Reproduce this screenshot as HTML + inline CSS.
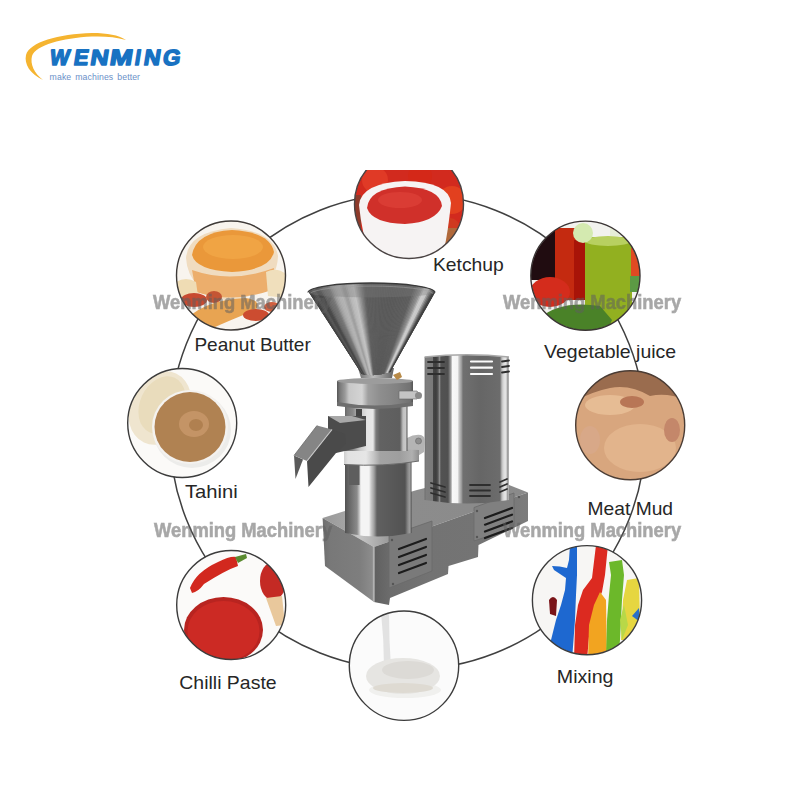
<!DOCTYPE html>
<html><head><meta charset="utf-8">
<style>
html,body{margin:0;padding:0;background:#fff;}
body{width:800px;height:800px;overflow:hidden;position:relative;font-family:"Liberation Sans",sans-serif;}
svg{position:absolute;left:0;top:0;}
.lbl{font-family:"Liberation Sans",sans-serif;font-size:19px;fill:#262626;}
.wm{font-family:"Liberation Sans",sans-serif;font-weight:bold;font-size:21px;fill:#606060;stroke:#606060;stroke-width:0.6px;}
</style></head><body>
<svg width="800" height="800" viewBox="0 0 800 800">
<defs>
  <clipPath id="cK"><path d="M366.4,170 L451.6,170 A54.5,54.5 0 1 1 366.4,170 Z"/></clipPath>
  <clipPath id="cKtop"><rect x="300" y="170" width="200" height="120"/></clipPath>
  <clipPath id="cP"><circle cx="231" cy="275.5" r="54.5"/></clipPath>
  <clipPath id="cV"><circle cx="585.4" cy="275.7" r="54.5"/></clipPath>
  <clipPath id="cT"><circle cx="182.2" cy="423" r="54.5"/></clipPath>
  <clipPath id="cM"><circle cx="630.2" cy="425.2" r="54.5"/></clipPath>
  <clipPath id="cX"><circle cx="587" cy="600.2" r="54.5"/></clipPath>
  <clipPath id="cC"><circle cx="231.2" cy="605" r="54.5"/></clipPath>
  <clipPath id="cL"><circle cx="404" cy="665.7" r="54.5"/></clipPath>
</defs>

<!-- LOGO -->
<path d="M43,80 C30,74 24,64 26,55 C30,42 58,34 92,33 C108,33 118,35 126,40 C116,37 104,36 92,36.5 C62,38 36,45 32,56 C30,64 34,73 43,80 Z" fill="#f5b430"/>
<g font-family="Liberation Sans" font-weight="bold" font-size="22" fill="#1872c2" stroke="#1872c2" stroke-width="1.5" stroke-linejoin="round">
<text x="0" y="0" transform="translate(49.10 64.5) skewX(-9) scale(0.941 1)">W</text>
<text x="0" y="0" transform="translate(73.10 64.5) skewX(-9) scale(0.988 1)">E</text>
<text x="0" y="0" transform="translate(89.50 64.5) skewX(-9) scale(1.139 1)">N</text>
<text x="0" y="0" transform="translate(109.10 64.5) skewX(-9) scale(1.233 1)">M</text>
<text x="0" y="0" transform="translate(134.0 64.5) skewX(-9) scale(0.92 1)">I</text>
<text x="0" y="0" transform="translate(143.10 64.5) skewX(-9) scale(1.040 1)">N</text>
<text x="0" y="0" transform="translate(162.10 64.5) skewX(-9) scale(1.023 1)">G</text>
</g>
<text x="49.6" y="80" font-family="Liberation Sans" font-size="8.7" fill="#6a90c8" textLength="90.4" lengthAdjust="spacing" word-spacing="1.5">make machines better</text>

<!-- BIG RING -->
<circle cx="407.7" cy="431.6" r="238.1" fill="none" stroke="#404040" stroke-width="1.5"/>

<!-- CIRCLES (photo approximations) -->
<g id="ketchup">
  <g clip-path="url(#cK)">
    <rect x="350" y="165" width="120" height="100" fill="#d22a1e"/>
    <circle cx="375" cy="180" r="13" fill="#e03a26"/>
    <circle cx="420" cy="176" r="12" fill="#d42818"/>
    <circle cx="452" cy="200" r="14" fill="#e2401f"/>
    <circle cx="450" cy="228" r="10" fill="#d03a20"/>
    <rect x="440" y="228" width="25" height="40" fill="#b0683a"/>
    <rect x="350" y="195" width="11" height="65" fill="#8e3a2a"/>
    <path d="M359,205 Q361,183 405,181 Q449,182 451,203 Q448,232 444,250 Q405,268 370,254 Q362,235 359,205 Z" fill="#f6f3f3"/>
    <path d="M367,208 Q369,188 405,186.5 Q440,188 442,206 Q436,222 405,224 Q372,223 367,208 Z" fill="#d0302a"/>
    <ellipse cx="400" cy="200" rx="22" ry="8" fill="#da3c34"/>
  </g>
  <circle cx="409" cy="204" r="54.5" fill="none" stroke="#4a4444" stroke-width="1.4" clip-path="url(#cKtop)"/>
</g>

<g id="peanut">
  <g clip-path="url(#cP)">
    <rect x="170" y="215" width="125" height="125" fill="#f8f4ee"/>
    <path d="M186,258 Q188,232 231,228 Q274,231 278,256 Q277,290 232,302 Q188,292 186,258 Z" fill="#f0dcc0"/>
    <path d="M192,255 Q196,232 232,230 Q270,232 274,252 Q270,270 232,272 Q196,270 192,255 Z" fill="#ea983a"/>
    <ellipse cx="233" cy="247" rx="30" ry="12" fill="#f0a444"/>
    <path d="M192,270 Q232,284 274,268 L272,290 Q232,304 196,292 Z" fill="#ecae6c"/>
    <path d="M176,282 Q186,276 196,282 L198,296 L178,298 Z" fill="#efdcb4"/>
    <path d="M266,272 Q278,266 288,276 L286,298 L268,296 Z" fill="#f0dfbc"/>
    <path d="M180,326 Q200,300 245,298 Q262,300 256,310 Q225,322 200,334 Z" fill="#e8a452"/>
    <ellipse cx="194" cy="300" rx="13" ry="7" fill="#c84a30"/>
    <ellipse cx="214" cy="297" rx="8" ry="6" fill="#c45634"/>
    <ellipse cx="256" cy="315" rx="13" ry="6" fill="#cc4c30"/>
    <ellipse cx="272" cy="307" rx="8" ry="5" fill="#d06040"/>
  </g>
  <circle cx="231" cy="275.5" r="54.5" fill="none" stroke="#3e3a38" stroke-width="1.4"/>
</g>

<g id="veg">
  <g clip-path="url(#cV)">
    <rect x="525" y="215" width="125" height="125" fill="#f2f2ee"/>
    <rect x="528" y="225" width="30" height="55" fill="#200c10"/>
    <rect x="555" y="228" width="31" height="72" fill="#c42a10"/>
    <rect x="574" y="240" width="12" height="60" fill="#a81408"/>
    <rect x="585" y="237" width="47" height="90" fill="#92b020"/>
    <ellipse cx="608" cy="241" rx="23" ry="5" fill="#b8d060"/>
    <circle cx="583" cy="233" r="10" fill="#d4eab0"/>
    <rect x="631" y="248" width="12" height="28" fill="#e04a22"/>
    <rect x="630" y="276" width="12" height="16" fill="#5c9a44"/>
    <ellipse cx="550" cy="292" rx="20" ry="15" fill="#d42c1c"/>
    <path d="M540,318 Q560,300 600,306 L612,320 L605,335 L545,335 Z" fill="#4a8228"/>
    <rect x="610" y="222" width="18" height="14" fill="#e6eed8"/>
  </g>
  <circle cx="585.4" cy="275.7" r="54.6" fill="none" stroke="#3a3434" stroke-width="1.4"/>
</g>

<g id="tahini">
  <g clip-path="url(#cT)">
    <rect x="125" y="365" width="115" height="115" fill="#fbfaf8"/>
    <ellipse cx="160" cy="408" rx="30" ry="38" fill="#efe5cf" transform="rotate(25 160 408)"/>
    <ellipse cx="162" cy="405" rx="22" ry="30" fill="#e9dcbc" transform="rotate(25 162 405)"/>
    <ellipse cx="192" cy="430" rx="39" ry="38" fill="#ececea"/>
    <ellipse cx="190" cy="427" rx="38" ry="37" fill="#f4f2ef"/>
    <ellipse cx="190" cy="427" rx="35.5" ry="35" fill="#b08252"/>
    <ellipse cx="194" cy="424" rx="15" ry="13" fill="#c49466"/>
    <ellipse cx="196" cy="425" rx="7" ry="6" fill="#b08050"/>
  </g>
  <circle cx="182.2" cy="423" r="54.5" fill="none" stroke="#3c3c3c" stroke-width="1.4"/>
</g>

<g id="meat">
  <g clip-path="url(#cM)">
    <rect x="570" y="365" width="120" height="120" fill="#d8a67e"/>
    <path d="M570,365 L690,365 L690,402 Q670,392 650,396 Q630,384 610,388 Q590,392 570,404 Z" fill="#9a6c4e"/>
    <ellipse cx="640" cy="448" rx="36" ry="24" fill="#e2b48c"/>
    <ellipse cx="610" cy="405" rx="25" ry="10" fill="#e6bc94"/>
    <ellipse cx="632" cy="402" rx="12" ry="6" fill="#b87656"/>
    <ellipse cx="672" cy="430" rx="8" ry="12" fill="#c4876a"/>
    <ellipse cx="590" cy="440" rx="10" ry="14" fill="#d8a888"/>
  </g>
  <circle cx="630.2" cy="425.2" r="54.5" fill="none" stroke="#4a3c34" stroke-width="1.4"/>
</g>

<g id="mixing">
  <g clip-path="url(#cX)">
    <rect x="525" y="540" width="125" height="120" fill="#f7f6f4"/>
    <path d="M570,545 L577,545 L577,575 L576,595 L575,620 L572,660 L550,660 L551,640 L556,620 L561,605 L565,590 L566,578 Q560,574 554,570 L552,566 Q560,566 567,568 L569,560 Z" fill="#1e68d0"/>
    <path d="M549,600 Q553,594 557,600 L556,616 L550,614 Z" fill="#7a1418"/>
    <path d="M596,545 L608,545 L605,575 L602,592 L594,610 L590,625 L587,660 L574,660 L575,625 L578,605 L583,590 L592,578 Z" fill="#dc2a20"/>
    <path d="M588,660 L589,625 L594,605 L600,592 L606,600 L607,660 Z" fill="#f2a420"/>
    <path d="M606,660 L607,620 L609,595 L611,575 L609,562 L622,560 L624,575 L622,600 L620,640 L618,660 Z" fill="#6cb82a"/>
    <path d="M621,640 L623,600 L627,580 L639,578 L640,625 L632,640 Z" fill="#e6d640"/>
    <path d="M620,620 L624,605 L628,625 L622,640 Z" fill="#b8d848"/>
    <path d="M632,616 L639,608 L640,622 Z" fill="#2a70c8"/>
  </g>
  <circle cx="587" cy="600.2" r="54.6" fill="none" stroke="#3c3c3c" stroke-width="1.4"/>
</g>

<g id="chilli">
  <g clip-path="url(#cC)">
    <rect x="170" y="545" width="125" height="120" fill="#fbfaf9"/>
    <path d="M190,588 Q196,572 218,562 Q230,556 236,557 L238,566 Q226,570 204,584 Q198,592 192,593 Z" fill="#d2281e"/>
    <path d="M235,557 L246,554 L247,558 L238,563 Z" fill="#5a8a30"/>
    <ellipse cx="223.5" cy="630" rx="39.5" ry="33" fill="#b82420"/>
    <ellipse cx="223.5" cy="631" rx="36" ry="30" fill="#cc2a24"/>
    <ellipse cx="273" cy="581" rx="13" ry="19" fill="#c42a24"/>
    <path d="M266,598 L282,596 L285,625 L276,626 Z" fill="#e9c89c"/>
  </g>
  <circle cx="231.2" cy="605" r="54.5" fill="none" stroke="#3c3c3c" stroke-width="1.4"/>
</g>

<g id="milk">
  <g clip-path="url(#cL)">
    <rect x="345" y="605" width="120" height="120" fill="#fbfbfb"/>
    <path d="M381,612 Q384,640 384,668 L391,668 Q389,640 389,612 Z" fill="#e2e2e2"/>
    <ellipse cx="405" cy="690" rx="36" ry="8" fill="#f0f0ee"/>
    <ellipse cx="403" cy="676" rx="37" ry="18" fill="#e6e5e2"/>
    <ellipse cx="408" cy="670" rx="26" ry="9" fill="#dcdad6"/>
    <ellipse cx="403" cy="688" rx="30" ry="5" fill="#dedad2"/>
  </g>
  <circle cx="404" cy="665.7" r="54.7" fill="none" stroke="#3c3c3c" stroke-width="1.4"/>
</g>

<!-- LABELS -->
<text class="lbl" x="433.00" y="271" textLength="70.81" lengthAdjust="spacingAndGlyphs">Ketchup</text>
<text class="lbl" x="194.40" y="350.5" textLength="116.39" lengthAdjust="spacingAndGlyphs">Peanut Butter</text>
<text class="lbl" x="544.05" y="357.5" textLength="132.14" lengthAdjust="spacingAndGlyphs">Vegetable juice</text>
<text class="lbl" x="184.90" y="498" textLength="52.82" lengthAdjust="spacingAndGlyphs">Tahini</text>
<text class="lbl" x="587.55" y="515" textLength="85.51" lengthAdjust="spacingAndGlyphs">Meat Mud</text>
<text class="lbl" x="179.30" y="689" textLength="97.32" lengthAdjust="spacingAndGlyphs">Chilli Paste</text>
<text class="lbl" x="556.80" y="682.5" textLength="56.69" lengthAdjust="spacingAndGlyphs">Mixing</text>

<!-- MACHINE -->
<g id="machine">
<defs>
  <linearGradient id="gHop" gradientUnits="userSpaceOnUse" x1="308" x2="435" y1="0" y2="0">
    <stop offset="0" stop-color="#4a4a4a"/>
    <stop offset="0.04" stop-color="#6a6a6a"/>
    <stop offset="0.12" stop-color="#8a8a8a"/>
    <stop offset="0.22" stop-color="#b8b8b8"/>
    <stop offset="0.3" stop-color="#9a9a9a"/>
    <stop offset="0.38" stop-color="#c8c8c8"/>
    <stop offset="0.45" stop-color="#8c8c8c"/>
    <stop offset="0.6" stop-color="#7a7a7a"/>
    <stop offset="0.78" stop-color="#858585"/>
    <stop offset="0.9" stop-color="#a8a8a8"/>
    <stop offset="0.96" stop-color="#bdbdbd"/>
    <stop offset="1" stop-color="#6a6a6a"/>
  </linearGradient>
  <linearGradient id="gNeck" gradientUnits="userSpaceOnUse" x1="360" x2="393" y1="0" y2="0">
    <stop offset="0" stop-color="#777"/>
    <stop offset="0.4" stop-color="#bbb"/>
    <stop offset="1" stop-color="#666"/>
  </linearGradient>
  <linearGradient id="gHead" gradientUnits="userSpaceOnUse" x1="337" x2="413" y1="0" y2="0">
    <stop offset="0.0000" stop-color="#555555"/>
    <stop offset="0.0395" stop-color="#7a7a7a"/>
    <stop offset="0.1053" stop-color="#9a9a9a"/>
    <stop offset="0.1579" stop-color="#c8c8c8"/>
    <stop offset="0.3289" stop-color="#d4d4d4"/>
    <stop offset="0.4079" stop-color="#a0a0a0"/>
    <stop offset="0.5658" stop-color="#8e8e8e"/>
    <stop offset="0.7895" stop-color="#828282"/>
    <stop offset="0.9605" stop-color="#727272"/>
    <stop offset="1.0000" stop-color="#555555"/>
  </linearGradient>
  <linearGradient id="gCol" gradientUnits="userSpaceOnUse" x1="345" x2="407.5" y1="0" y2="0">
    <stop offset="0.0000" stop-color="#666666"/>
    <stop offset="0.0320" stop-color="#777777"/>
    <stop offset="0.1280" stop-color="#8a8a8a"/>
    <stop offset="0.2400" stop-color="#c8c8c8"/>
    <stop offset="0.3520" stop-color="#e4e4e4"/>
    <stop offset="0.4480" stop-color="#e8e8e8"/>
    <stop offset="0.4960" stop-color="#7a7a7a"/>
    <stop offset="0.5600" stop-color="#626262"/>
    <stop offset="0.8800" stop-color="#5e5e5e"/>
    <stop offset="0.9280" stop-color="#c0c0c0"/>
    <stop offset="0.9680" stop-color="#c8c8c8"/>
    <stop offset="1.0000" stop-color="#555555"/>
  </linearGradient>
  <linearGradient id="gLow" gradientUnits="userSpaceOnUse" x1="345" x2="411.5" y1="0" y2="0">
    <stop offset="0.0000" stop-color="#505050"/>
    <stop offset="0.0150" stop-color="#585858"/>
    <stop offset="0.0602" stop-color="#666666"/>
    <stop offset="0.1805" stop-color="#8a8a8a"/>
    <stop offset="0.2180" stop-color="#c8c8c8"/>
    <stop offset="0.2406" stop-color="#f4f4f4"/>
    <stop offset="0.3609" stop-color="#f4f4f4"/>
    <stop offset="0.3910" stop-color="#cccccc"/>
    <stop offset="0.4361" stop-color="#a0a0a0"/>
    <stop offset="0.4812" stop-color="#606060"/>
    <stop offset="0.9023" stop-color="#525252"/>
    <stop offset="0.9474" stop-color="#8a8a8a"/>
    <stop offset="0.9774" stop-color="#a0a0a0"/>
    <stop offset="1.0000" stop-color="#4a4a4a"/>
  </linearGradient>
  <linearGradient id="gFl" gradientUnits="userSpaceOnUse" x1="344" x2="420" y1="0" y2="0">
    <stop offset="0.0000" stop-color="#cfcfcf"/>
    <stop offset="0.0526" stop-color="#e2e2e2"/>
    <stop offset="0.2895" stop-color="#e6e6e6"/>
    <stop offset="0.3947" stop-color="#c4c4c4"/>
    <stop offset="0.4737" stop-color="#a4a4a4"/>
    <stop offset="0.7368" stop-color="#9e9e9e"/>
    <stop offset="0.8947" stop-color="#b0b0b0"/>
    <stop offset="1.0000" stop-color="#8a8a8a"/>
  </linearGradient>
  <linearGradient id="gTall" gradientUnits="userSpaceOnUse" x1="424.6" x2="509" y1="0" y2="0">
    <stop offset="0.0000" stop-color="#6a6a6a"/>
    <stop offset="0.0166" stop-color="#7e7e7e"/>
    <stop offset="0.0936" stop-color="#7a7a7a"/>
    <stop offset="0.1055" stop-color="#444444"/>
    <stop offset="0.1351" stop-color="#3e3e3e"/>
    <stop offset="0.1588" stop-color="#555555"/>
    <stop offset="0.1765" stop-color="#8a8a8a"/>
    <stop offset="0.1943" stop-color="#525252"/>
    <stop offset="0.2773" stop-color="#505050"/>
    <stop offset="0.3128" stop-color="#a0a0a0"/>
    <stop offset="0.3306" stop-color="#f8f8f8"/>
    <stop offset="0.3898" stop-color="#f4f4f4"/>
    <stop offset="0.4076" stop-color="#c8c8c8"/>
    <stop offset="0.4372" stop-color="#9a9a9a"/>
    <stop offset="0.4550" stop-color="#707070"/>
    <stop offset="0.6564" stop-color="#666666"/>
    <stop offset="0.8934" stop-color="#6c6c6c"/>
    <stop offset="0.9171" stop-color="#c0c0c0"/>
    <stop offset="0.9408" stop-color="#e0e0e0"/>
    <stop offset="0.9645" stop-color="#e4e4e4"/>
    <stop offset="0.9822" stop-color="#a0a0a0"/>
    <stop offset="0.9917" stop-color="#b8b8b8"/>
    <stop offset="1.0000" stop-color="#909090"/>
  </linearGradient>
  <linearGradient id="gBaseL" gradientUnits="userSpaceOnUse" x1="322" x2="375" y1="0" y2="0">
    <stop offset="0.0000" stop-color="#6e6e6e"/>
    <stop offset="0.1509" stop-color="#787878"/>
    <stop offset="0.7170" stop-color="#7e7e7e"/>
    <stop offset="0.9434" stop-color="#8c8c8c"/>
    <stop offset="1.0000" stop-color="#b0b0b0"/>
  </linearGradient>
  <linearGradient id="gBaseF" gradientUnits="userSpaceOnUse" x1="374" x2="528" y1="0" y2="0">
    <stop offset="0.0000" stop-color="#606060"/>
    <stop offset="0.1039" stop-color="#6c6c6c"/>
    <stop offset="0.3636" stop-color="#737373"/>
    <stop offset="0.6883" stop-color="#747474"/>
    <stop offset="1.0000" stop-color="#7c7c7c"/>
  </linearGradient>
  <linearGradient id="gBaseT" gradientUnits="userSpaceOnUse" x1="322" x2="528" y1="0" y2="0">
    <stop offset="0.0000" stop-color="#989898"/>
    <stop offset="0.1117" stop-color="#a4a4a4"/>
    <stop offset="0.1748" stop-color="#c8c8c8"/>
    <stop offset="0.2427" stop-color="#b4b4b4"/>
    <stop offset="0.3301" stop-color="#989898"/>
    <stop offset="0.4369" stop-color="#8c8c8c"/>
    <stop offset="1.0000" stop-color="#8a8a8a"/>
  </linearGradient>
</defs>
<!-- base top face -->
<path d="M322.6,518 L348,510 L417,490 L425,488 L509,485 L528,492.5 L374,547 Z" fill="url(#gBaseT)"/>
<!-- base left face -->
<path d="M322.6,518 L374,547 L374,602 L325,566 Z" fill="url(#gBaseL)"/>
<!-- base front long face -->
<path d="M374,547 L528,492.5 L528,521 L478.5,545 L478,557 L448.5,566 L448,574 L390,598 L389,605 L374,602 Z" fill="url(#gBaseF)"/>
<path d="M374,547 L374,602" stroke="#c0c0c0" stroke-width="1.2"/>
<!-- vent panels -->
<path d="M389,536 L432,521 L432,571 L389,588 Z" fill="#7a7a7a" stroke="#6a6a6a" stroke-width="0.8"/>
<path d="M474,507.5 L514,493 L514,527 L474,541 Z" fill="#808080" stroke="#6a6a6a" stroke-width="0.8"/>
<g stroke="#1c1c1c" stroke-width="2.2" stroke-linecap="round">
  <path d="M399,549 L426,539 M399,557 L426,547 M399,565 L426,555 M399,573 L426,563"/>
  <path d="M485,518 L512,508 M485,524.7 L512,514.7 M485,531.5 L512,521.5 M485,538 L512,528"/>
</g>
<g fill="#555"><circle cx="392" cy="540" r="1.2"/><circle cx="393" cy="584" r="1.2"/><circle cx="477" cy="511" r="1.2"/><circle cx="477" cy="537" r="1.2"/><circle cx="519" cy="497" r="1.2"/></g>
<!-- tall cylinder -->
<path d="M424.6,357 Q467,353 509,357 L509,500 Q467.5,507 424.6,500 Z" fill="url(#gTall)"/>
<path d="M424.6,357 Q467,352.5 509,357" fill="none" stroke="#a8a8a8" stroke-width="1.5"/>
<g stroke="#fafafa" stroke-width="2.2" stroke-linecap="round">
  <path d="M471,361.5 L492,361.5 M471,367.7 L492,367.7 M471,374 L492,374"/>
</g>
<g stroke="#2e2e2e" stroke-width="1.8" stroke-linecap="round">
  <path d="M428,362 L444,362 M428,368 L444,368 M428,374 L444,374 M502,361.5 L509,360.5 M502,367 L509,366 M502,372.5 L509,371.5"/>
  <path d="M431,483 L445,487 M431,488 L445,492 M431,493 L445,497 M470,485 L490,485 M470,490.5 L490,490.5 M470,496 L490,496 M500,482 L507,479 M500,487 L507,484 M500,492 L507,489"/>
</g>
<!-- lower cylinder -->
<path d="M345,462 L411.5,462 L411.5,533 Q378,540 345,533 Z" fill="url(#gLow)"/>
<rect x="349" y="465" width="10.5" height="20" fill="#5e5e5e"/>
<!-- flange -->
<path d="M403,453 L407,438 Q414,434 421,435 Q426,437 425,443 L424,452 L416,457 Z" fill="#b4b4b4"/>
<circle cx="418.5" cy="441" r="3" fill="#8e8e8e" stroke="#666" stroke-width="0.6"/>
<path d="M344,451 Q384,448 419,450 L419,461 Q384,467 344,464.5 Z" fill="url(#gFl)"/>
<path d="M344,464.5 Q384,467 419,461" fill="none" stroke="#6a6a6a" stroke-width="1"/>
<!-- upper column -->
<path d="M345,404 L407.5,404 L407.5,451 L345,451 Z" fill="url(#gCol)"/>
<rect x="356" y="409" width="6" height="11" fill="#444"/>
<!-- chute -->
<path d="M328,416 L366,416 L366,446 L336,453 L328,440 Z" fill="#4c4c4c"/>
<path d="M328,416 L352,416 L366,420 L340,423 Z" fill="#a8a8a8"/>
<path d="M307,461 L332,429.5 L345,434 L346,444 L336,453 L308.5,487 Z" fill="#4a4a4a"/>
<path d="M294,455.5 L303,459.5 L295.5,479 Z" fill="#5a5a5a"/>
<path d="M294,455.5 L317,425.5 L332,429.5 L307,461 Z" fill="#858585"/>
<path d="M307,461 L332,429.5" stroke="#c8c8c8" stroke-width="1.2"/>
<path d="M294,455.5 L317,425.5" stroke="#6a6a6a" stroke-width="0.8"/>
<!-- grinding head -->
<path d="M337,381 L413,381 L413,404 Q375,410 337,404 Z" fill="url(#gHead)"/>
<path d="M337,402 Q375,409 413,402 L413,406 Q375,412 337,406 Z" fill="#6e6e6e"/>
<ellipse cx="375" cy="381" rx="38" ry="3" fill="#9c9c9c"/>
<path d="M399,391 L417,391 Q421,395 417,399 L399,399 Z" fill="#c4c4c4" stroke="#666" stroke-width="0.6"/>
<circle cx="418.5" cy="395.5" r="3.5" fill="#8a8a8a"/>
<!-- neck -->
<path d="M358,368 L394,368 L392,378 L361,378 Z" fill="url(#gNeck)"/>
<path d="M393,375 L400,372 L402,377 L397,380 Z" fill="#b88a48"/>
<!-- hopper -->
<clipPath id="cHop"><path d="M309,292.5 A63,9.5 0 0 1 435,292.5 L390,372 Q376,377 362,374 Z"/></clipPath>
<g clip-path="url(#cHop)">
<path d="M376.4,396.6 L288.35,270 L290.69,270 Z" fill="#3a3a3a" stroke="#3a3a3a" stroke-width="0.8"/>
<path d="M376.4,396.6 L290.39,270 L292.73,270 Z" fill="#3a3a3a" stroke="#3a3a3a" stroke-width="0.8"/>
<path d="M376.4,396.6 L292.43,270 L294.76,270 Z" fill="#3a3a3a" stroke="#3a3a3a" stroke-width="0.8"/>
<path d="M376.4,396.6 L294.46,270 L296.80,270 Z" fill="#3a3a3a" stroke="#3a3a3a" stroke-width="0.8"/>
<path d="M376.4,396.6 L296.50,270 L298.84,270 Z" fill="#424242" stroke="#424242" stroke-width="0.8"/>
<path d="M376.4,396.6 L298.54,270 L300.87,270 Z" fill="#4e4e4e" stroke="#4e4e4e" stroke-width="0.8"/>
<path d="M376.4,396.6 L300.57,270 L302.91,270 Z" fill="#565656" stroke="#565656" stroke-width="0.8"/>
<path d="M376.4,396.6 L302.61,270 L304.95,270 Z" fill="#555555" stroke="#555555" stroke-width="0.8"/>
<path d="M376.4,396.6 L304.65,270 L306.98,270 Z" fill="#484848" stroke="#484848" stroke-width="0.8"/>
<path d="M376.4,396.6 L306.68,270 L309.02,270 Z" fill="#484848" stroke="#484848" stroke-width="0.8"/>
<path d="M376.4,396.6 L308.72,270 L311.06,270 Z" fill="#4e4e4e" stroke="#4e4e4e" stroke-width="0.8"/>
<path d="M376.4,396.6 L310.76,270 L313.10,270 Z" fill="#5f5f5f" stroke="#5f5f5f" stroke-width="0.8"/>
<path d="M376.4,396.6 L312.80,270 L315.13,270 Z" fill="#686868" stroke="#686868" stroke-width="0.8"/>
<path d="M376.4,396.6 L314.83,270 L317.17,270 Z" fill="#6d6d6d" stroke="#6d6d6d" stroke-width="0.8"/>
<path d="M376.4,396.6 L316.87,270 L319.21,270 Z" fill="#717171" stroke="#717171" stroke-width="0.8"/>
<path d="M376.4,396.6 L318.91,270 L321.24,270 Z" fill="#757575" stroke="#757575" stroke-width="0.8"/>
<path d="M376.4,396.6 L320.94,270 L323.28,270 Z" fill="#808080" stroke="#808080" stroke-width="0.8"/>
<path d="M376.4,396.6 L322.98,270 L325.32,270 Z" fill="#949494" stroke="#949494" stroke-width="0.8"/>
<path d="M376.4,396.6 L325.02,270 L327.36,270 Z" fill="#a1a1a1" stroke="#a1a1a1" stroke-width="0.8"/>
<path d="M376.4,396.6 L327.06,270 L329.39,270 Z" fill="#a9a9a9" stroke="#a9a9a9" stroke-width="0.8"/>
<path d="M376.4,396.6 L329.09,270 L331.43,270 Z" fill="#b0b0b0" stroke="#b0b0b0" stroke-width="0.8"/>
<path d="M376.4,396.6 L331.13,270 L333.47,270 Z" fill="#b2b2b2" stroke="#b2b2b2" stroke-width="0.8"/>
<path d="M376.4,396.6 L333.17,270 L335.50,270 Z" fill="#b4b4b4" stroke="#b4b4b4" stroke-width="0.8"/>
<path d="M376.4,396.6 L335.20,270 L337.54,270 Z" fill="#ababab" stroke="#ababab" stroke-width="0.8"/>
<path d="M376.4,396.6 L337.24,270 L339.58,270 Z" fill="#a0a0a0" stroke="#a0a0a0" stroke-width="0.8"/>
<path d="M376.4,396.6 L339.28,270 L341.61,270 Z" fill="#9f9f9f" stroke="#9f9f9f" stroke-width="0.8"/>
<path d="M376.4,396.6 L341.31,270 L343.65,270 Z" fill="#acacac" stroke="#acacac" stroke-width="0.8"/>
<path d="M376.4,396.6 L343.35,270 L345.69,270 Z" fill="#b8b8b8" stroke="#b8b8b8" stroke-width="0.8"/>
<path d="M376.4,396.6 L345.39,270 L347.73,270 Z" fill="#bcbcbc" stroke="#bcbcbc" stroke-width="0.8"/>
<path d="M376.4,396.6 L347.43,270 L349.76,270 Z" fill="#c0c0c0" stroke="#c0c0c0" stroke-width="0.8"/>
<path d="M376.4,396.6 L349.46,270 L351.80,270 Z" fill="#c3c3c3" stroke="#c3c3c3" stroke-width="0.8"/>
<path d="M376.4,396.6 L351.50,270 L353.84,270 Z" fill="#b3b3b3" stroke="#b3b3b3" stroke-width="0.8"/>
<path d="M376.4,396.6 L353.54,270 L355.87,270 Z" fill="#a3a3a3" stroke="#a3a3a3" stroke-width="0.8"/>
<path d="M376.4,396.6 L355.57,270 L357.91,270 Z" fill="#929292" stroke="#929292" stroke-width="0.8"/>
<path d="M376.4,396.6 L357.61,270 L359.95,270 Z" fill="#828282" stroke="#828282" stroke-width="0.8"/>
<path d="M376.4,396.6 L359.65,270 L361.98,270 Z" fill="#747474" stroke="#747474" stroke-width="0.8"/>
<path d="M376.4,396.6 L361.68,270 L364.02,270 Z" fill="#656565" stroke="#656565" stroke-width="0.8"/>
<path d="M376.4,396.6 L363.72,270 L366.06,270 Z" fill="#5e5e5e" stroke="#5e5e5e" stroke-width="0.8"/>
<path d="M376.4,396.6 L365.76,270 L368.10,270 Z" fill="#5e5e5e" stroke="#5e5e5e" stroke-width="0.8"/>
<path d="M376.4,396.6 L367.80,270 L370.13,270 Z" fill="#5d5d5d" stroke="#5d5d5d" stroke-width="0.8"/>
<path d="M376.4,396.6 L369.83,270 L372.17,270 Z" fill="#5d5d5d" stroke="#5d5d5d" stroke-width="0.8"/>
<path d="M376.4,396.6 L371.87,270 L374.21,270 Z" fill="#5d5d5d" stroke="#5d5d5d" stroke-width="0.8"/>
<path d="M376.4,396.6 L373.91,270 L376.24,270 Z" fill="#5c5c5c" stroke="#5c5c5c" stroke-width="0.8"/>
<path d="M376.4,396.6 L375.94,270 L378.28,270 Z" fill="#5c5c5c" stroke="#5c5c5c" stroke-width="0.8"/>
<path d="M376.4,396.6 L377.98,270 L380.32,270 Z" fill="#5c5c5c" stroke="#5c5c5c" stroke-width="0.8"/>
<path d="M376.4,396.6 L380.02,270 L382.36,270 Z" fill="#5c5c5c" stroke="#5c5c5c" stroke-width="0.8"/>
<path d="M376.4,396.6 L382.06,270 L384.39,270 Z" fill="#5b5b5b" stroke="#5b5b5b" stroke-width="0.8"/>
<path d="M376.4,396.6 L384.09,270 L386.43,270 Z" fill="#5b5b5b" stroke="#5b5b5b" stroke-width="0.8"/>
<path d="M376.4,396.6 L386.13,270 L388.47,270 Z" fill="#5b5b5b" stroke="#5b5b5b" stroke-width="0.8"/>
<path d="M376.4,396.6 L388.17,270 L390.50,270 Z" fill="#5b5b5b" stroke="#5b5b5b" stroke-width="0.8"/>
<path d="M376.4,396.6 L390.20,270 L392.54,270 Z" fill="#5a5a5a" stroke="#5a5a5a" stroke-width="0.8"/>
<path d="M376.4,396.6 L392.24,270 L394.58,270 Z" fill="#5a5a5a" stroke="#5a5a5a" stroke-width="0.8"/>
<path d="M376.4,396.6 L394.28,270 L396.61,270 Z" fill="#5a5a5a" stroke="#5a5a5a" stroke-width="0.8"/>
<path d="M376.4,396.6 L396.31,270 L398.65,270 Z" fill="#5b5b5b" stroke="#5b5b5b" stroke-width="0.8"/>
<path d="M376.4,396.6 L398.35,270 L400.69,270 Z" fill="#5b5b5b" stroke="#5b5b5b" stroke-width="0.8"/>
<path d="M376.4,396.6 L400.39,270 L402.73,270 Z" fill="#5b5b5b" stroke="#5b5b5b" stroke-width="0.8"/>
<path d="M376.4,396.6 L402.43,270 L404.76,270 Z" fill="#5c5c5c" stroke="#5c5c5c" stroke-width="0.8"/>
<path d="M376.4,396.6 L404.46,270 L406.80,270 Z" fill="#5c5c5c" stroke="#5c5c5c" stroke-width="0.8"/>
<path d="M376.4,396.6 L406.50,270 L408.84,270 Z" fill="#5c5c5c" stroke="#5c5c5c" stroke-width="0.8"/>
<path d="M376.4,396.6 L408.54,270 L410.87,270 Z" fill="#5c5c5c" stroke="#5c5c5c" stroke-width="0.8"/>
<path d="M376.4,396.6 L410.57,270 L412.91,270 Z" fill="#5d5d5d" stroke="#5d5d5d" stroke-width="0.8"/>
<path d="M376.4,396.6 L412.61,270 L414.95,270 Z" fill="#5d5d5d" stroke="#5d5d5d" stroke-width="0.8"/>
<path d="M376.4,396.6 L414.65,270 L416.98,270 Z" fill="#5d5d5d" stroke="#5d5d5d" stroke-width="0.8"/>
<path d="M376.4,396.6 L416.68,270 L419.02,270 Z" fill="#5e5e5e" stroke="#5e5e5e" stroke-width="0.8"/>
<path d="M376.4,396.6 L418.72,270 L421.06,270 Z" fill="#5e5e5e" stroke="#5e5e5e" stroke-width="0.8"/>
<path d="M376.4,396.6 L420.76,270 L423.10,270 Z" fill="#686868" stroke="#686868" stroke-width="0.8"/>
<path d="M376.4,396.6 L422.80,270 L425.13,270 Z" fill="#727272" stroke="#727272" stroke-width="0.8"/>
<path d="M376.4,396.6 L424.83,270 L427.17,270 Z" fill="#7d7d7d" stroke="#7d7d7d" stroke-width="0.8"/>
<path d="M376.4,396.6 L426.87,270 L429.21,270 Z" fill="#888888" stroke="#888888" stroke-width="0.8"/>
<path d="M376.4,396.6 L428.91,270 L431.24,270 Z" fill="#979797" stroke="#979797" stroke-width="0.8"/>
<path d="M376.4,396.6 L430.94,270 L433.28,270 Z" fill="#b4b4b4" stroke="#b4b4b4" stroke-width="0.8"/>
<path d="M376.4,396.6 L432.98,270 L435.32,270 Z" fill="#cccccc" stroke="#cccccc" stroke-width="0.8"/>
<path d="M376.4,396.6 L435.02,270 L437.35,270 Z" fill="#cacaca" stroke="#cacaca" stroke-width="0.8"/>
<path d="M376.4,396.6 L437.05,270 L439.39,270 Z" fill="#c5c5c5" stroke="#c5c5c5" stroke-width="0.8"/>
<path d="M376.4,396.6 L439.09,270 L441.43,270 Z" fill="#9a9a9a" stroke="#9a9a9a" stroke-width="0.8"/>
<path d="M376.4,396.6 L441.13,270 L443.47,270 Z" fill="#767676" stroke="#767676" stroke-width="0.8"/>
<path d="M376.4,396.6 L443.17,270 L445.50,270 Z" fill="#565656" stroke="#565656" stroke-width="0.8"/>
<path d="M376.4,396.6 L445.20,270 L447.54,270 Z" fill="#3d3d3d" stroke="#3d3d3d" stroke-width="0.8"/>
<path d="M376.4,396.6 L447.24,270 L449.58,270 Z" fill="#3a3a3a" stroke="#3a3a3a" stroke-width="0.8"/>
<path d="M376.4,396.6 L449.28,270 L451.61,270 Z" fill="#3a3a3a" stroke="#3a3a3a" stroke-width="0.8"/>

<path d="M308,292.5 A63.5,9.5 0 0 1 435,292.5 A63.5,5 0 0 1 308,292.5 Z" fill="#7c7c7c" opacity="0.35"/>
</g>
<path d="M308,292.5 A63.5,9.5 0 0 1 435,292.5" fill="none" stroke="#3a3a3a" stroke-width="1.3"/>
<path d="M310,293.5 A62,8.5 0 0 1 433,293.5" fill="none" stroke="#a0a0a0" stroke-width="0.8" opacity="0.7"/>
<path d="M310,292.5 L362,374" stroke="#444" stroke-width="1" opacity="0.7"/>
<path d="M434,292.5 L390,372" stroke="#444" stroke-width="1" opacity="0.7"/>
</g>
<!-- WATERMARKS under machine -->
<g class="wmg" opacity="0.55">
<text class="wm" x="153" y="309" transform="translate(153 0) scale(0.874 1) translate(-153 0)">Wenming Machinery</text>
<text class="wm" x="503" y="309" transform="translate(503 0) scale(0.874 1) translate(-503 0)">Wenming Machinery</text>
<text class="wm" x="154" y="537.5" transform="translate(154 0) scale(0.874 1) translate(-154 0)">Wenming Machinery</text>
<text class="wm" x="503" y="537.5" transform="translate(503 0) scale(0.874 1) translate(-503 0)">Wenming Machinery</text>
</g>

</svg>
</body></html>
